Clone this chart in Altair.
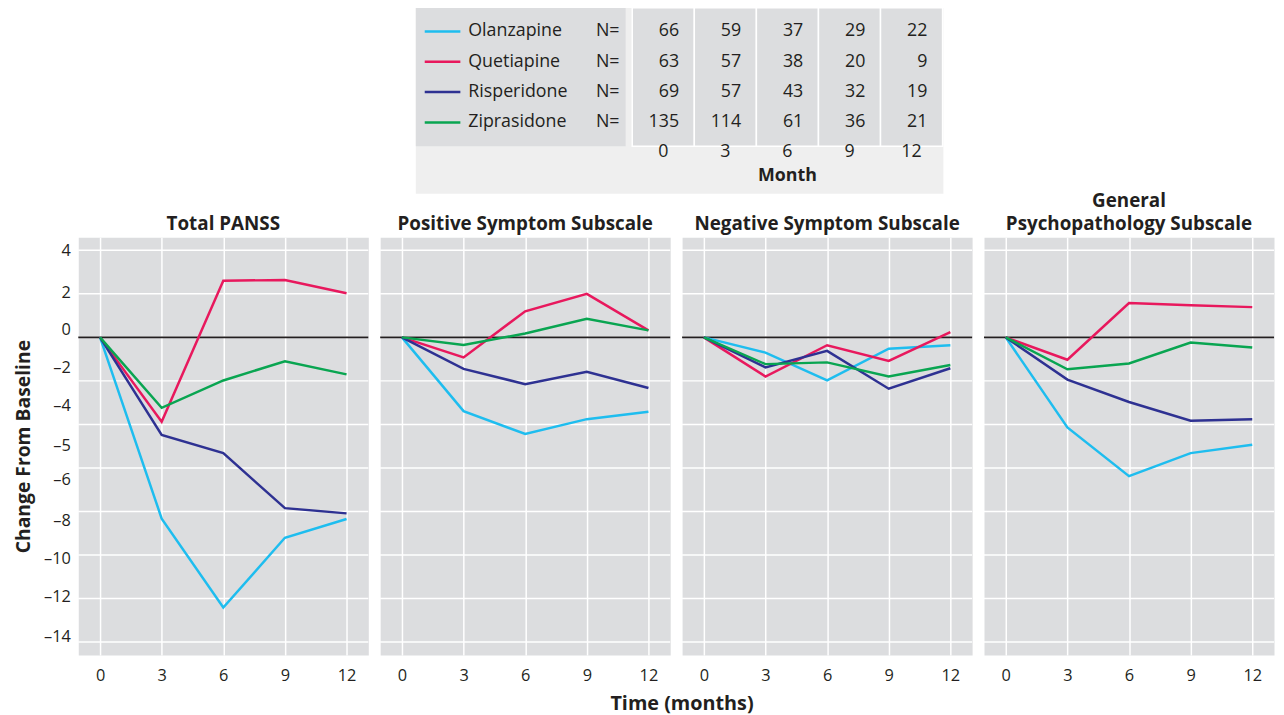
import altair as alt
import pandas as pd

# ---------------- data ----------------
months = [0, 3, 6, 9, 12]
drugs = ["Olanzapine", "Quetiapine", "Risperidone", "Ziprasidone"]
drug_colors = ["#1ebdef", "#e8185d", "#2e3192", "#09a551"]

n_olanzapine = [66, 59, 37, 29, 22]
n_quetiapine = [63, 57, 38, 20, 9]
n_risperidone = [69, 57, 43, 32, 19]
n_ziprasidone = [135, 114, 61, 36, 21]

panel_titles = ["Total PANSS", "Positive Symptom Subscale",
                "Negative Symptom Subscale", ["General", "Psychopathology Subscale"]]

total_olanzapine = [0, -8.33, -12.42, -9.21, -8.35]
total_quetiapine = [0, -3.88, 2.6, 2.64, 2.03]
total_risperidone = [0, -4.48, -5.32, -7.85, -8.09]
total_ziprasidone = [0, -3.24, -1.98, -1.1, -1.7]

pos_olanzapine = [0, -3.39, -4.44, -3.76, -3.42]
pos_quetiapine = [0, -0.92, 1.2, 2.0, 0.32]
pos_risperidone = [0, -1.45, -2.15, -1.58, -2.33]
pos_ziprasidone = [0, -0.35, 0.18, 0.85, 0.32]

neg_olanzapine = [0, -0.70, -1.98, -0.52, -0.36]
neg_quetiapine = [0, -1.8, -0.36, -1.08, 0.24]
neg_risperidone = [0, -1.38, -0.62, -2.36, -1.42]
neg_ziprasidone = [0, -1.23, -1.15, -1.8, -1.27]

gen_olanzapine = [0, -4.14, -6.38, -5.32, -4.94]
gen_quetiapine = [0, -1.03, 1.58, 1.48, 1.39]
gen_risperidone = [0, -1.94, -2.97, -3.83, -3.76]
gen_ziprasidone = [0, -1.47, -1.2, -0.24, -0.47]

# y tick labels as printed (positions as they appear in the original figure)
y_label_values = [4, 2.07, 0.38, -1.4, -3.14, -4.95, -6.55, -8.41, -10.18, -11.93, -13.77]
y_label_text = ["4", "2", "0", "–2", "–4", "–5", "–6", "–8", "–10", "–12", "–14"]
grid_values = [4, 2, 0, -2, -4, -6, -8, -10, -12, -14]

# ---------------- style ----------------
FONT = "Open Sans"
TEXT = "#231f20"
PANEL_BG = "#dcdddf"
LIGHT_BG = "#efefef"
PANEL_W, PANEL_H = 293, 422

y_scale = alt.Scale(domain=[-14.6, 4.6], nice=False, zero=False)
x_scale = alt.Scale(domain=[-1.06, 13.06], nice=False, zero=False)
color_scale = alt.Scale(domain=drugs, range=drug_colors)

label_expr = "''"
for v, t in reversed(list(zip(y_label_values, y_label_text))):
    label_expr = f"abs(datum.value - ({v})) < 0.001 ? '{t}' : ({label_expr})"

panel_series = [
    [total_olanzapine, total_quetiapine, total_risperidone, total_ziprasidone],
    [pos_olanzapine, pos_quetiapine, pos_risperidone, pos_ziprasidone],
    [neg_olanzapine, neg_quetiapine, neg_risperidone, neg_ziprasidone],
    [gen_olanzapine, gen_quetiapine, gen_risperidone, gen_ziprasidone],
]


def make_panel(title, series, first):
    rows = []
    for d, vals in zip(drugs, series):
        for m, v in zip(months, vals):
            rows.append({"drug": d, "month": m, "change": v})
    df = pd.DataFrame(rows)

    if first:
        yaxis = alt.Axis(values=y_label_values, labelExpr=label_expr, grid=False,
                         ticks=False, domain=False, labelPadding=8, labelFontSize=16.5,
                         labelColor=TEXT, labelFont=FONT,
                         title="Change From Baseline", titleFont=FONT, titleFontSize=19.5,
                         titleFontWeight="bold", titleColor=TEXT, titlePadding=10)
    else:
        yaxis = None
    xaxis = alt.Axis(values=months, grid=True, gridColor="white", gridWidth=1.5,
                     ticks=False, domain=False, labelPadding=13, labelFontSize=16.5,
                     labelColor=TEXT, labelFont=FONT, title=None, labelFlush=False)

    grid = alt.Chart(pd.DataFrame({"g": grid_values})).mark_rule(
        color="white", strokeWidth=1.5).encode(
        y=alt.Y("g:Q", scale=y_scale, axis=yaxis))
    zero = alt.Chart(pd.DataFrame({"z": [0]})).mark_rule(
        color="#231f20", strokeWidth=2).encode(
        y=alt.Y("z:Q", scale=y_scale, axis=yaxis))
    lines = alt.Chart(df).mark_line(strokeWidth=2.5).encode(
        x=alt.X("month:Q", scale=x_scale, axis=xaxis),
        y=alt.Y("change:Q", scale=y_scale, axis=yaxis),
        color=alt.Color("drug:N", scale=color_scale, legend=None),
        order="month:Q",
    )
    return alt.layer(grid, zero, lines).properties(
        width=PANEL_W, height=PANEL_H,
        title=alt.TitleParams(title, font=FONT, fontSize=19, fontWeight="bold",
                              color=TEXT, offset=3, anchor="middle", lineHeight=24),
        view=alt.ViewBackground(fill=PANEL_BG, stroke="transparent"),
    )


panels = [make_panel(t, s, i == 0) for i, (t, s) in enumerate(zip(panel_titles, panel_series))]
row = alt.hconcat(*panels, spacing=8).properties(
    title=alt.TitleParams("Time (months)", orient="bottom", anchor="middle",
                          font=FONT, fontSize=20, fontWeight="bold", color=TEXT,
                          offset=10, dx=38)
)

# ---------------- table / legend on top ----------------
TOP_LEFT = 75          # page x where the top chart starts (layout)
TOP_H = 188
TABLE_L, TABLE_R = 416, 949
MONTH0_X, PER_MONTH = 666, 20.9
TXT = 18


def px(x):
    return x - TOP_LEFT


top_w = TABLE_R - TOP_LEFT
tx = alt.Scale(domain=[(TOP_LEFT - MONTH0_X) / PER_MONTH, (TABLE_R - MONTH0_X) / PER_MONTH],
               nice=False, zero=False)
ty = alt.Scale(type="point", domain=drugs, range=[24, 116], padding=0)

n_rows = []
for d, ns in zip(drugs, [n_olanzapine, n_quetiapine, n_risperidone, n_ziprasidone]):
    for m, n in zip(months, ns):
        n_rows.append({"drug": d, "month": m, "n": n})
n_df = pd.DataFrame(n_rows)
drug_df = pd.DataFrame({"drug": drugs})
month_df = pd.DataFrame({"month": months})
one = pd.DataFrame({"k": [0]})

light_box = alt.Chart(one).mark_rect(color=LIGHT_BG).encode(
    x=alt.value(px(TABLE_L)), x2=alt.value(px(TABLE_R)), y=alt.value(0), y2=alt.value(TOP_H))
legend_box = alt.Chart(one).mark_rect(color=PANEL_BG).encode(
    x=alt.value(px(TABLE_L)), x2=alt.value(px(628)), y=alt.value(0), y2=alt.value(140))
col_boxes = alt.Chart(month_df).transform_calculate(
    lo="datum.month - 1.5", hi="datum.month + 1.5").mark_rect(
    fill=PANEL_BG, stroke="white", strokeWidth=1.5).encode(
    x=alt.X("lo:Q", scale=tx, axis=None), x2="hi:Q", y=alt.value(0), y2=alt.value(140))
swatches = alt.Chart(drug_df).mark_rule(strokeWidth=2.5).encode(
    x=alt.value(px(425)), x2=alt.value(px(461)),
    y=alt.Y("drug:N", scale=ty, axis=None),
    color=alt.Color("drug:N", scale=color_scale, legend=None))
names = alt.Chart(drug_df).mark_text(align="left", baseline="middle", fontSize=TXT,
                                     font=FONT, color=TEXT).encode(
    x=alt.value(px(469)), y=alt.Y("drug:N", scale=ty, axis=None), text="drug:N")
n_eq = alt.Chart(drug_df).mark_text(align="left", baseline="middle", fontSize=TXT,
                                    font=FONT, color=TEXT).encode(
    x=alt.value(px(598)), y=alt.Y("drug:N", scale=ty, axis=None), text=alt.value("N="))
n_text = alt.Chart(n_df).mark_text(align="right", baseline="middle", fontSize=TXT,
                                   font=FONT, color=TEXT, dx=16).encode(
    x=alt.X("month:Q", scale=tx, axis=None), y=alt.Y("drug:N", scale=ty, axis=None),
    text="n:Q")
month_text = alt.Chart(month_df).mark_text(align="center", baseline="middle", fontSize=TXT,
                                           font=FONT, color=TEXT).encode(
    x=alt.X("month:Q", scale=tx, axis=None), y=alt.value(146), text="month:Q")
month_title = alt.Chart(pd.DataFrame({"month": [6], "t": ["Month"]})).mark_text(
    align="center", baseline="middle", fontSize=TXT, fontWeight="bold",
    font=FONT, color=TEXT).encode(
    x=alt.X("month:Q", scale=tx, axis=None), y=alt.value(170), text="t:N")

top = alt.layer(light_box, legend_box, col_boxes, swatches, names, n_eq, n_text,
                month_text, month_title).properties(
    width=top_w, height=TOP_H,
    view=alt.ViewBackground(fill="transparent", stroke="transparent"))

chart = alt.vconcat(top, row, spacing=-4).properties(
    padding={"left": 5, "top": -6, "right": 0, "bottom": 0}
).configure_view(stroke="transparent").configure(font=FONT)

chart.save("out.html", embed_options={"renderer": "svg", "actions": False})
